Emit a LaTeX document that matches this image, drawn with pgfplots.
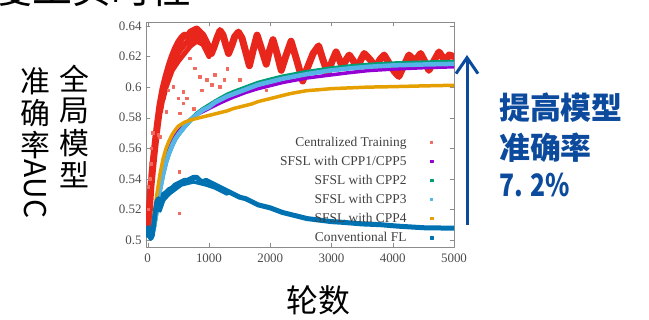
\documentclass[border=0pt]{standalone}
\usepackage{pgfplots}
\pgfplotsset{compat=1.18}
\usepackage{fontspec}
\setmainfont{Liberation Serif}
\newfontfamily\cjk{Noto Sans CJK SC}
\usetikzlibrary{arrows.meta}
\definecolor{cRed}{HTML}{E8261C}
\definecolor{cRedL}{HTML}{F06A60}
\definecolor{cPurple}{HTML}{9400D3}
\definecolor{cGreen}{HTML}{009E73}
\definecolor{cLBlue}{HTML}{56B4E9}
\definecolor{cOrange}{HTML}{E69F00}
\definecolor{cBlue}{HTML}{0072B2}
\definecolor{cNavy}{HTML}{0B4A9C}
\begin{document}
\begin{tikzpicture}[x=1bp,y=1bp]
\path[use as bounding box] (0bp,0bp) rectangle (649bp,320bp);
% cut title at top
\node[anchor=base west, inner sep=0pt, font=\cjk\fontsize{40}{40}\selectfont] at (-8bp,316bp) {度工实时性};
% y label, vertical writing
\begin{scope}[every node/.style={inner sep=0pt, font=\cjk\fontsize{30}{30}\selectfont}]
\node at (74bp,241bp) {全};
\node at (74bp,209bp) {局};
\node at (74bp,177bp) {模};
\node at (74bp,145bp) {型};
\node at (35bp,239bp) {准};
\node at (35bp,207bp) {确};
\node at (35bp,175bp) {率};
\node[rotate=-90] at (35bp,131bp) {AUC};
\end{scope}
\node[inner sep=0pt, font=\cjk\fontsize{32}{32}\selectfont] at (318bp,20bp) {轮数};
% arrow and annotation
\draw[cNavy, line width=3bp, -{Straight Barb[length=16bp,width=22bp,line width=3bp]}] (467bp,95bp) -- (467bp,265bp);
\begin{scope}[every node/.style={inner sep=0pt, anchor=west, text=cNavy, font=\cjk\bfseries\fontsize{31}{31}\selectfont}]
\node at (499bp,212bp) {提高模型};
\node at (499bp,172bp) {准确率};
\node at (499bp,135bp) {\scalebox{0.8}[1]{7.\hspace{9bp}2\%}};
\end{scope}
\begin{axis}[
  at={(146bp,73bp)}, anchor=south west,
  scale only axis, width=308bp, height=225bp,
  xmin=-28, xmax=5000, ymin=0.4954, ymax=0.6426,
  axis line style={draw=black!45},
  tick style={draw=black!45, major tick length=4bp},
  xtick={0,1000,2000,3000,4000,5000},
  xticklabels={0,1000,2000,3000,4000,5000},
  ytick={0.5,0.52,0.54,0.56,0.58,0.6,0.62,0.64},
  yticklabels={0.5,0.52,0.54,0.56,0.58,0.6,0.62,0.64},
  tick label style={font=\fontsize{13}{13}\selectfont, text=black!70},
  xticklabel style={yshift=-3bp},
  yticklabel style={xshift=-1bp},
  legend plot pos=right,
  legend cell align=right,
  legend image code/.code={\path[draw=none,fill=none] (0bp,0bp) -- (23bp,0bp); \draw[#1] plot coordinates {(23bp,0bp)};},
  legend style={draw=none, fill=none, font=\fontsize{13.5}{13.5}\selectfont, text=black!75,
    at={(1,0)}, anchor=south east, xshift=-18bp, row sep=4.2bp},
  line join=round, line cap=round,
]
% Centralized training (thick band)
\addplot[cRed, line width=7bp, forget plot] coordinates {
(0,0.505)(15,0.513)(30,0.522)(50,0.534)(75,0.545)(100,0.555)(130,0.566)(160,0.576)
(200,0.588)(250,0.599)(300,0.607)(350,0.614)(400,0.620)(450,0.625)(500,0.629)(550,0.632)
(600,0.634)(650,0.633)(700,0.636)(750,0.637)(800,0.638)(850,0.636)(900,0.634)(950,0.630)
(1000,0.626)(1040,0.622)(1080,0.626)(1130,0.632)(1180,0.637)(1230,0.634)(1280,0.627)
(1320,0.622)(1370,0.627)(1420,0.633)(1480,0.636)(1540,0.632)(1600,0.623)(1660,0.614)
(1720,0.624)(1785,0.634)(1850,0.626)(1935,0.615)(1990,0.624)(2045,0.631)(2110,0.622)
(2180,0.611)(2260,0.621)(2340,0.630)(2430,0.618)(2530,0.604)(2600,0.612)(2700,0.622)
(2790,0.627)(2860,0.618)(2940,0.609)(3010,0.617)(3075,0.623)(3130,0.618)(3180,0.613)
(3240,0.618)(3290,0.621)(3360,0.617)(3425,0.612)(3480,0.618)(3535,0.622)(3630,0.618)
(3725,0.613)(3790,0.618)(3860,0.621)(3950,0.615)(4030,0.610)(4100,0.607)(4180,0.614)
(4265,0.621)(4360,0.617)(4455,0.622)(4520,0.617)(4590,0.611)(4670,0.617)(4755,0.623)
(4860,0.617)(4920,0.621)(5000,0.620)};
\addplot[cRed, line width=6bp, forget plot] coordinates {
(200,0.584)(250,0.595)(300,0.603)(400,0.615)(500,0.623)(600,0.628)(700,0.631)(800,0.634)(900,0.631)(1000,0.623)};
\addplot[cRed, line width=5bp, forget plot] coordinates {
(250,0.592)(300,0.600)(400,0.611)(500,0.617)(600,0.622)(700,0.627)(800,0.630)(900,0.628)(1000,0.620)};
\addplot[only marks, mark=square*, mark size=1.3bp, cRedL, forget plot] coordinates {
(200,0.5676)(172,0.5687)(335,0.598)(416,0.6003)(498,0.5927)(525,0.5829)(579,0.597)(579,0.5894)
(634,0.5927)(688,0.6189)(769,0.6123)(850,0.6068)(878,0.598)(959,0.6047)(1041,0.6014)(1094,0.608)
(1176,0.6003)(1500,0.6047)(514,0.5447)(514,0.5174)(754,0.586)(1936,0.598)(300,0.584)
(1300,0.612)(1250,0.605)(10,0.520)(5,0.535)(30,0.540)(45,0.550)(60,0.560)(85,0.570)};
% SFSL CPP1/CPP5
\addplot[cPurple, line width=3.5bp, forget plot] coordinates {
(0,0.505)(50,0.501)(100,0.512)(150,0.527)(200,0.540)(250,0.549)(300,0.556)(350,0.561)
(400,0.565)(500,0.571)(600,0.5755)(700,0.579)(800,0.582)(900,0.584)(1000,0.586)(1200,0.590)
(1400,0.5935)(1600,0.5965)(1800,0.599)(2000,0.601)(2200,0.603)(2400,0.6045)(2600,0.606)
(2800,0.607)(3000,0.608)(3300,0.6095)(3600,0.6108)(4000,0.6118)(4500,0.6127)(5000,0.6133)};
% SFSL CPP2
\addplot[cGreen, line width=4.5bp, forget plot] coordinates {
(0,0.505)(50,0.501)(100,0.508)(150,0.520)(200,0.533)(250,0.543)(300,0.551)(350,0.557)
(400,0.562)(450,0.566)(500,0.569)(600,0.574)(700,0.5785)(800,0.5825)(900,0.5855)(1000,0.588)
(1100,0.5905)(1200,0.5928)(1300,0.595)(1400,0.5967)(1500,0.5982)(1600,0.5997)(1700,0.6012)
(1800,0.6027)(2000,0.6048)(2200,0.6068)(2400,0.6083)(2600,0.6098)(2800,0.6110)(3000,0.6122)
(3300,0.6135)(3600,0.6145)(4000,0.6154)(4500,0.616)(5000,0.6164)};
% SFSL CPP3
\addplot[cLBlue, line width=4.5bp, forget plot] coordinates {
(0,0.505)(50,0.501)(100,0.508)(150,0.520)(200,0.533)(250,0.543)(300,0.551)(350,0.557)
(400,0.562)(450,0.566)(500,0.569)(600,0.574)(700,0.5785)(800,0.582)(900,0.585)(1000,0.587)
(1100,0.590)(1200,0.592)(1300,0.594)(1400,0.5955)(1500,0.597)(1600,0.5985)(1700,0.600)
(1800,0.6015)(2000,0.6035)(2200,0.6055)(2400,0.607)(2600,0.6085)(2800,0.6098)(3000,0.611)
(3300,0.6123)(3600,0.6133)(4000,0.6142)(4500,0.6148)(5000,0.6152)};
% SFSL CPP4
\addplot[cOrange, line width=3.5bp, forget plot] coordinates {
(0,0.505)(50,0.501)(100,0.515)(150,0.530)(200,0.543)(250,0.553)(300,0.560)(350,0.565)
(400,0.569)(450,0.572)(500,0.5745)(600,0.577)(700,0.5785)(800,0.5795)(900,0.5805)(1000,0.5815)
(1100,0.5825)(1200,0.5835)(1300,0.5845)(1400,0.586)(1500,0.587)(1600,0.588)(1700,0.589)
(1800,0.5905)(1900,0.5915)(2000,0.5925)(2100,0.5935)(2200,0.5945)(2300,0.5955)(2400,0.5963)
(2500,0.597)(2600,0.5977)(2800,0.5983)(3000,0.599)(3300,0.5995)(3600,0.600)(4000,0.6003)
(4500,0.6008)(5000,0.6012)};
% Conventional FL
\addplot[cBlue, line width=5bp, forget plot] coordinates {
(0,0.503)(10,0.508)(25,0.505)(50,0.501)(75,0.503)(100,0.511)(125,0.519)(150,0.525)(175,0.527)
(200,0.523)(230,0.525)(260,0.530)(300,0.531)(350,0.533)(400,0.534)(450,0.536)(500,0.537)
(550,0.538)(600,0.539)(650,0.539)(700,0.540)(750,0.541)(800,0.541)(850,0.539)(900,0.538)
(950,0.539)(1000,0.538)(1100,0.536)(1200,0.534)(1300,0.532)(1400,0.530)(1500,0.528)
(1600,0.527)(1700,0.525)(1800,0.523)(1900,0.522)(2000,0.521)(2200,0.518)(2400,0.516)
(2600,0.514)(2800,0.513)(3000,0.512)(3200,0.5115)(3500,0.5105)(3800,0.510)(4100,0.509)
(4500,0.508)(5000,0.5077)};
\addplot[cBlue, line width=3.5bp, forget plot] coordinates {
(150,0.521)(200,0.519)(260,0.526)(350,0.530)(450,0.533)(550,0.536)(650,0.537)(750,0.538)
(850,0.537)(950,0.536)(1100,0.534)(1300,0.530)};
% legend
\addlegendimage{only marks, mark=square*, mark size=1.1bp, cRedL}
\addlegendentry{Centralized Training}
\addlegendimage{only marks, mark=square*, mark size=1.3bp, cPurple}
\addlegendentry{SFSL with CPP1/CPP5}
\addlegendimage{only marks, mark=square*, mark size=1.3bp, cGreen}
\addlegendentry{SFSL with CPP2}
\addlegendimage{only marks, mark=square*, mark size=1.1bp, cLBlue}
\addlegendentry{SFSL with CPP3}
\addlegendimage{only marks, mark=square*, mark size=1.3bp, cOrange}
\addlegendentry{SFSL with CPP4}
\addlegendimage{only marks, mark=square*, mark size=1.3bp, cBlue}
\addlegendentry{Conventional FL}
\end{axis}
\end{tikzpicture}
\end{document}
